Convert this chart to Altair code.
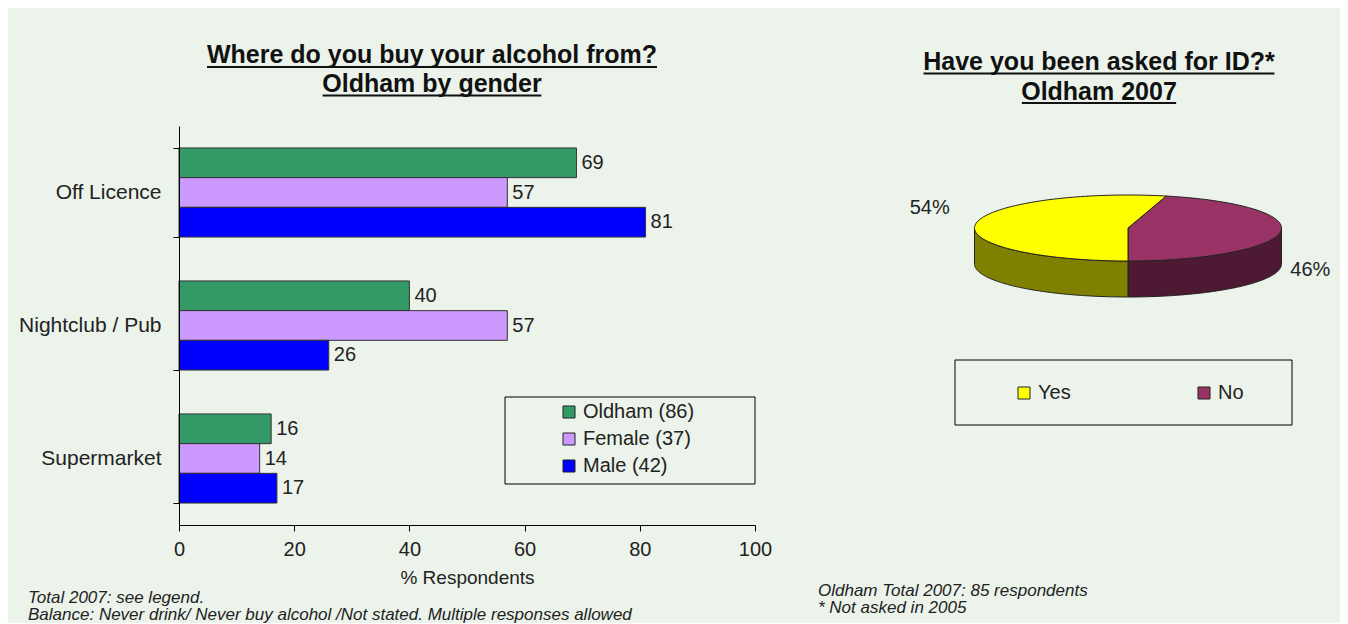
import altair as alt
import pandas as pd

# ---------------- data ----------------
categories = ["Off Licence", "Nightclub / Pub", "Supermarket"]
series = ["Oldham (86)", "Female (37)", "Male (42)"]
oldham = [69, 40, 16]
female = [57, 57, 14]
male = [81, 26, 17]
bar_colors = ["#339966", "#CC99FF", "#0000FF"]
x_ticks = [0, 20, 40, 60, 80, 100]

pie_labels = ["No", "Yes"]          # clockwise drawing order
pie_values = [46, 54]
legend_order = ["Yes", "No"]
pie_top_colors = ["#FFFF00", "#993366"]
pie_side_colors = {"Yes": "#808000", "No": "#4D1933"}

left_title = ["Where do you buy your alcohol from?", "Oldham by gender"]
right_title = ["Have you been asked for ID?*", "Oldham 2007"]
left_notes = ["Total 2007: see legend.",
              "Balance: Never drink/ Never buy alcohol /Not stated. Multiple responses allowed"]
right_notes = ["Oldham Total 2007: 85 respondents", "* Not asked in 2005"]

BG = "#EBF3EA"
FONT = "Liberation Sans"
TXT = "#222222"
TITLE_SIZE = 25

rows = []
for i, c in enumerate(categories):
    for s, vals in zip(series, [oldham, female, male]):
        rows.append({"category": c, "series": s, "value": vals[i]})
bar_df = pd.DataFrame(rows)
one = pd.DataFrame({"a": [0]})

# ---------------- left panel ----------------
anchor = alt.Chart(one).mark_rect(opacity=0).encode(
    x=alt.value(-171), x2=alt.value(1161), y=alt.value(-118), y2=alt.value(490))

base = alt.Chart(bar_df).encode(
    y=alt.Y("category:N", sort=categories,
            scale=alt.Scale(paddingInner=0.33, paddingOuter=0.165),
            axis=alt.Axis(title=None, tickBand="extent", tickSize=6, labelPadding=12,
                          labelFontSize=21, labelFont=FONT, labelColor=TXT,
                          domainColor="#000", tickColor="#000", zindex=1)),
    yOffset=alt.YOffset("series:N", sort=series,
                        scale=alt.Scale(paddingInner=0, paddingOuter=0)),
    x=alt.X("value:Q", scale=alt.Scale(domain=[0, 100]),
            axis=alt.Axis(values=x_ticks, title="% Respondents", grid=False,
                          labelFlush=False, tickSize=6, labelPadding=8,
                          labelFontSize=20, labelFont=FONT,
                          labelColor=TXT, titleFontSize=19, titleFont=FONT,
                          titleFontWeight="normal", titleColor=TXT, titlePadding=9,
                          domainColor="#000", tickColor="#000", zindex=1)),
)

bars = base.mark_bar(stroke="#333333", strokeWidth=1).encode(
    color=alt.Color("series:N", sort=series,
                    scale=alt.Scale(domain=series, range=bar_colors),
                    legend=alt.Legend(orient="none", legendX=380, legendY=276, title=None,
                                      symbolType="square", symbolSize=144,
                                      symbolStrokeColor="#222", symbolStrokeWidth=1,
                                      labelFontSize=20, labelFont=FONT, labelColor=TXT,
                                      rowPadding=7, padding=0)))

bar_text = base.mark_text(align="left", baseline="middle", dx=5, fontSize=20,
                          font=FONT, color=TXT).encode(text="value:Q")

legend_box = alt.Chart(one).mark_rect(fillOpacity=0, stroke="#000", strokeWidth=1).encode(
    x=alt.value(326), x2=alt.value(576), y=alt.value(271), y2=alt.value(358))


def text_layer(t, x, y, size, weight="normal", style="normal", align="center",
               baseline="alphabetic"):
    return alt.Chart(one).mark_text(text=t, fontSize=size, fontWeight=weight,
                                    fontStyle=style, font=FONT,
                                    color=TXT if weight == "normal" else "#111",
                                    align=align, baseline=baseline).encode(
        x=alt.value(x), y=alt.value(y))


def underline(cx, em_width, y):
    half = em_width * TITLE_SIZE / 2
    return alt.Chart(one).mark_rule(color="#111", strokeWidth=2).encode(
        x=alt.value(cx - half), x2=alt.value(cx + half), y=alt.value(y))


lt1 = text_layer(left_title[0], 253, -63, TITLE_SIZE, weight="bold")
lt2 = text_layer(left_title[1], 253, -34.5, TITLE_SIZE, weight="bold")
lu1 = underline(253, 18.0, -59)
lu2 = underline(253, 8.75, -30.5)
ln1 = text_layer(left_notes[0], -151, 477, 17, style="italic", align="left")
ln2 = text_layer(left_notes[1], -151, 494, 17, style="italic", align="left")

left = alt.layer(anchor, bars, bar_text, legend_box, lt1, lt2, lu1, lu2, ln1, ln2).properties(
    width=576, height=399)

# ---------------- right panel (3-D pie) ----------------
A, B, D, N = 153.5, 33, 36, 120
START = 180 - 360 * pie_values[0] / sum(pie_values)
pie_df = pd.DataFrame({"label": pie_labels, "value": pie_values,
                       "ord": list(range(len(pie_labels))),
                       "side": [pie_side_colors[l] for l in pie_labels]})

xs = alt.X("px:Q", scale=alt.Scale(domain=[-248, 212], nice=False, zero=False), axis=None)
ys = alt.Y("py:Q", scale=alt.Scale(domain=[-298, 102], nice=False, zero=False), axis=None)

pie_base = alt.Chart(pie_df).transform_joinaggregate(
    total="sum(value)"
).transform_window(
    cum="sum(value)", sort=[alt.SortField("ord")], frame=[None, 0]
).transform_calculate(
    t0=f"{START} + 360*(datum.cum - datum.value)/datum.total"
).transform_calculate(
    t1=f"{START} + 360*datum.cum/datum.total"
)

sides = pie_base.transform_calculate(
    s0="max(datum.t0, 90)"
).transform_calculate(
    s1="min(datum.t1, 270)"
).transform_filter(
    "datum.s1 > datum.s0"
).transform_calculate(
    idx=f"sequence(0, {2 * N + 3})"
).transform_flatten(["idx"]).transform_calculate(
    j=f"datum.idx <= {N} ? datum.idx : (datum.idx <= {2 * N + 1} ? {2 * N + 1} - datum.idx : 0)"
).transform_calculate(
    t=f"(datum.s0 + (datum.s1 - datum.s0)*datum.j/{N})*PI/180"
).transform_calculate(
    px=f"{A}*sin(datum.t)",
    py=f"{B}*cos(datum.t) - ((datum.idx > {N} && datum.idx <= {2 * N + 1}) ? {D} : 0)"
).mark_line(filled=True, stroke="#222", strokeWidth=1, strokeJoin="round").encode(
    x=xs, y=ys, detail="label:N", order=alt.Order("idx:Q"),
    color=alt.Color("side:N", scale=None))

tops = pie_base.transform_calculate(
    idx=f"sequence(0, {N + 3})"
).transform_flatten(["idx"]).transform_calculate(
    t=f"(datum.t0 + (datum.t1 - datum.t0)*(datum.idx - 1)/{N})*PI/180"
).transform_calculate(
    px=f"(datum.idx == 0 || datum.idx == {N + 2}) ? 0 : {A}*sin(datum.t)",
    py=f"(datum.idx == 0 || datum.idx == {N + 2}) ? 0 : {B}*cos(datum.t)"
).mark_line(filled=True, stroke="#222", strokeWidth=1, strokeJoin="round").encode(
    x=xs, y=ys, detail="label:N", order=alt.Order("idx:Q"),
    color=alt.Color("label:N", scale=alt.Scale(domain=legend_order, range=pie_top_colors),
                    legend=alt.Legend(orient="none", direction="horizontal",
                                      legendX=134, legendY=257, title=None,
                                      symbolType="square", symbolSize=144,
                                      symbolStrokeColor="#222", symbolStrokeWidth=1,
                                      labelFontSize=20, labelFont=FONT, labelColor=TXT,
                                      columnPadding=123, padding=0)))

pie_text = pie_base.transform_calculate(
    mid="((datum.t0 + datum.t1)/2)*PI/180"
).transform_calculate(
    px=f"{A}*sin(datum.mid) + (sin(datum.mid) < 0 ? -46 : 30)",
    py=f"{B}*cos(datum.mid) + (sin(datum.mid) < 0 ? 16 : -{D + 2})",
    lab="datum.value + '%'"
).mark_text(fontSize=20, font=FONT, color=TXT, baseline="middle").encode(
    x=xs, y=ys, text="lab:N")

pie_box = alt.Chart(one).mark_rect(fillOpacity=0, stroke="#000", strokeWidth=1).encode(
    x=alt.value(75), x2=alt.value(412), y=alt.value(234), y2=alt.value(299))

rt1 = text_layer(right_title[0], 219, -56, TITLE_SIZE, weight="bold")
rt2 = text_layer(right_title[1], 219, -26.5, TITLE_SIZE, weight="bold")
ru1 = underline(219, 14.04, -52.5)
ru2 = underline(219, 6.17, -23)
rn1 = text_layer(right_notes[0], -62, 470, 17, style="italic", align="left")
rn2 = text_layer(right_notes[1], -62, 487, 17, style="italic", align="left")

right = alt.layer(sides, tops, pie_text, pie_box, rt1, rt2, ru1, ru2, rn1, rn2).properties(
    width=460, height=400)

chart = alt.hconcat(left, right, spacing=125, bounds="flush").resolve_scale(
    color="independent", x="independent", y="independent"
).properties(
    padding=0, background=BG
).configure_view(strokeWidth=0)

chart.save("out.html", embed_options={"renderer": "svg", "actions": False})
